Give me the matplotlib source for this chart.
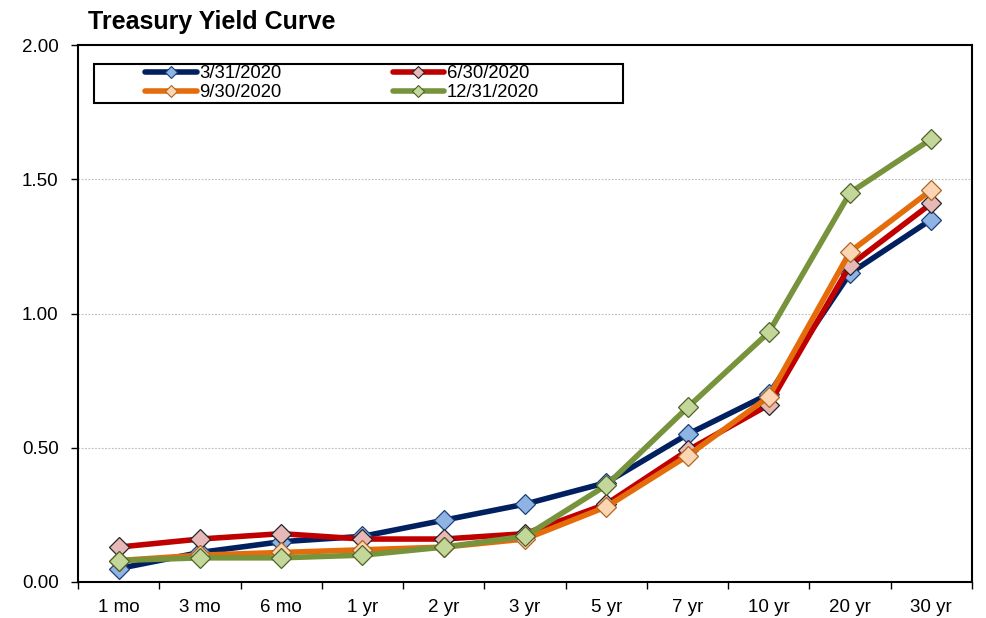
import numpy as np
import matplotlib
matplotlib.use("Agg")
import matplotlib.pyplot as plt
from matplotlib.lines import Line2D
from matplotlib.patches import Rectangle

plt.rcParams['font.family'] = ['Liberation Sans', 'DejaVu Sans']

maturities = ['1 mo', '3 mo', '6 mo', '1 yr', '2 yr', '3 yr', '5 yr', '7 yr', '10 yr', '20 yr', '30 yr']
y_mar = [0.05, 0.11, 0.15, 0.17, 0.23, 0.29, 0.37, 0.55, 0.70, 1.15, 1.35]
y_jun = [0.13, 0.16, 0.18, 0.16, 0.16, 0.18, 0.29, 0.49, 0.66, 1.18, 1.41]
y_sep = [0.08, 0.10, 0.11, 0.12, 0.13, 0.16, 0.28, 0.47, 0.69, 1.23, 1.46]
y_dec = [0.08, 0.09, 0.09, 0.10, 0.13, 0.17, 0.36, 0.65, 0.93, 1.45, 1.65]
labels = ['3/31/2020', '6/30/2020', '9/30/2020', '12/31/2020']
yticks = [0.0, 0.5, 1.0, 1.5, 2.0]

# line colour, marker face, marker edge
styles = [('#002060', '#8DB4E2', '#1F3F7A'),
          ('#C00000', '#E6B8B7', '#262626'),
          ('#E46C0A', '#FCD5B4', '#B0651E'),
          ('#77933C', '#C4D79B', '#4F6228')]

fig = plt.figure(figsize=(9.87, 6.18), dpi=100)
ax = fig.add_axes([78/987, 36/618, (972-78)/987, (582-45)/618])

x = np.arange(len(maturities))
handles = []
for series, lab, (lc, fc, ec) in zip([y_mar, y_jun, y_sep, y_dec], labels, styles):
    ax.plot(x, series, color=lc, lw=4, marker='D', ms=10.5,
            markerfacecolor=fc, markeredgecolor=ec, markeredgewidth=0.9)
    handles.append(Line2D([], [], color=lc, lw=4, marker='D', ms=6,
                          markerfacecolor=fc, markeredgecolor=ec, markeredgewidth=0.8,
                          solid_capstyle='round'))

ax.set_xlim(-0.5, len(maturities) - 0.5)
ax.set_ylim(0, 2.0)
ax.set_yticks(yticks)
ax.set_yticklabels(['%.2f' % v for v in yticks])
ax.set_xticks(x)
ax.set_xticklabels(maturities)
ax.set_xticks(np.arange(-0.5, len(maturities)), minor=True)
ax.tick_params(axis='x', which='major', length=0, pad=12, labelsize=13.5)
ax.tick_params(axis='x', which='minor', length=5, width=1, direction='out')
ax.tick_params(axis='y', length=5, width=1, direction='out', pad=9, labelsize=13.5)
for yv in yticks[1:-1]:
    ax.axhline(yv, color='#BBBBBB', lw=0.8, ls=(0, (1.5, 1.5)), zorder=0)
for s in ax.spines.values():
    s.set_linewidth(1.5)
    s.set_color('black')

fig.text(88/987, 1 - 22/618, 'Treasury Yield Curve', fontsize=18, fontweight='bold',
         va='center', ha='left')

# legend box, entries laid out row by row
fig.patches.append(Rectangle((94/987, 1 - 103/618), (623-94)/987, (103-64)/618,
                             transform=fig.transFigure, fill=True, facecolor='white',
                             edgecolor='black', lw=1.5, zorder=5))
order = [0, 2, 1, 3]
leg = fig.legend([handles[i] for i in order], [labels[i] for i in order],
                 loc='upper left', ncol=2,
                 bbox_to_anchor=(145/987, 1 - 65/618), frameon=False,
                 fontsize=13.3, handlelength=2.8, handletextpad=0.15,
                 columnspacing=6.0, labelspacing=0.12, borderpad=0, borderaxespad=0)
leg.set_zorder(6)

fig.savefig('out.png', dpi=100)
